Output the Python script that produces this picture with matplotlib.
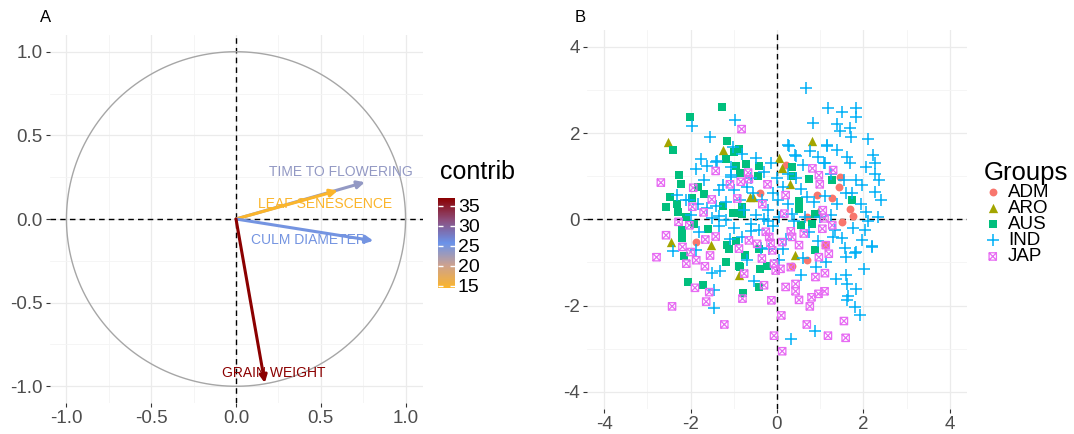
import matplotlib
matplotlib.use('Agg')
import matplotlib.pyplot as plt
import numpy as np
from matplotlib.path import Path
from matplotlib.colors import LinearSegmentedColormap, Normalize
from matplotlib.cm import ScalarMappable

plt.rcParams['font.family'] = ['Liberation Sans', 'DejaVu Sans']
plt.rcParams['axes.unicode_minus'] = False

# ---- panel A: variables ----
var_names = ['TIME TO FLOWERING', 'LEAF SENESCENCE', 'CULM DIAMETER', 'GRAIN WEIGHT']
var_dim1 = [0.76, 0.60, 0.81, 0.17]
var_dim2 = [0.22, 0.17, -0.13, -0.98]
var_contrib = [23.4, 14.5, 25.1, 36.9]
contrib_ticks = [15, 20, 25, 30, 35]

# label placement (layout only)
label_x = [0.62, 0.525, 0.425, 0.224]
label_y = [0.28, 0.09, -0.125, -0.92]

# ---- panel B: individuals ----
group_names = ['ADM', 'ARO', 'AUS', 'IND', 'JAP']

adm_x = [0.20, 1.47, 1.43, -0.39, 0.93, 1.28, 1.69, 0.70, 1.76, 1.50, -1.87, 1.11, 0.69, 0.35]
adm_y = [1.26, 0.98, 0.75, 0.61, 0.57, 0.50, 0.23, 0.05, 0.07, -0.06, -0.53, -0.59, -0.95, -1.09]

aro_x = [-2.52, -1.26, 0.82, 0.05, 0.11, 0.30, -0.63, -0.55, 0.95, -2.46, -1.54, 0.41, -0.89]
aro_y = [1.79, 1.60, 1.82, 1.41, 1.18, 0.81, 0.52, 0.52, 0.17, -0.53, -0.60, -0.84, -1.30]

aus_x = [-1.27, -2.01, -2.41, -1.16, -1.17, -2.27, -2.23, -1.83, -1.70, -2.48, -1.96, -2.56, -2.32,
         -1.25, -2.29, -2.11, -1.03, -1.92, -2.20, -2.15, -1.19, -2.07, -1.71, -0.89, -0.89, -0.71,
         -0.42, -0.95, -0.86, -0.43, 0.35, 0.38, 0.74, 1.28, 1.74, -0.80, 0.51, -0.99, 0.88, 0.52,
         0.55, -0.94, -0.42, -0.74, 0.88, -0.86, -0.40, -0.24, -0.42, -0.79, -0.99, -0.80, -2.21,
         -1.59, -1.15, -1.11, 0.80]
aus_y = [2.61, 2.36, 1.60, 1.81, 1.39, 1.02, 0.81, 0.75, 0.58, 0.52, 0.50, 0.28, 0.35,
         0.31, 0.16, 0.05, 0.15, -0.12, -0.43, -0.85, -0.99, -1.46, -1.53, -1.09, 1.62, 1.28,
         1.23, 1.23, 1.08, 1.00, 1.22, 1.00, 0.93, 0.92, 0.44, 0.29, 0.43, 0.15, 0.13, 0.23,
         -0.14, -0.51, -0.70, -0.84, -0.72, -1.11, -1.15, -1.09, -1.57, -1.70, 1.57, 0.13, -0.24,
         -0.23, -0.59, -0.69, -0.10]

ind_x = [-1.98, -0.97, -1.56, -1.03, -1.75, -1.87, -1.63, -1.38, -1.07, -2.31, -2.11, -1.84, -1.42,
         -1.61, -1.34, -1.50, -1.19, -2.42, -1.88, -1.51, -1.32, -1.46, -1.47, 0.66, 1.18, 1.51,
         1.84, 1.83, 1.39, 0.84, 1.46, 1.68, 1.72, 2.11, 0.28, 0.76, 1.16, 1.39, 1.61, 2.23, 0.43,
         1.09, 1.70, 2.07, 2.28, 1.97, 2.36, 1.59, -0.80, -0.48, -1.42, -1.07, -1.07, -0.69, -1.34,
         -0.99, -0.34, -1.19, -2.03, -0.76, -0.22, -0.49, 0.26, 1.15, 0.42, 1.11, 2.27, 1.82, 2.27,
         1.73, 0.69, 0.03, 0.34, 1.26, 2.07, -1.34, -0.61, -0.42, -0.38, -0.18, -0.53, 0.15, 2.19,
         1.96, 1.57, 1.80, 1.50, 1.34, 2.03, 1.65, 1.13, 1.59, 1.82, 2.20, 2.01, 1.36, 1.59, 1.63,
         1.82, 1.63, 1.80, 1.93, 0.88, 0.32,
         -0.60, -0.30, 0.00, 0.15, 0.45, 0.60, 0.95, 1.25, 0.55, 0.85, 1.10, 1.40, 1.55, 0.25,
         -0.10, -0.55, -0.85, -0.30, 0.05, 0.40, 0.75, 0.95, 0.20, -0.60, -1.00, -0.80, -0.10,
         0.60, 0.90, 1.30, 1.75, 2.35, 2.40, 1.95, 2.10, -1.70, -1.25, -2.00, -1.80, -1.10, -0.70,
         0.05, 0.55, 0.25, -0.15, 1.00, 0.65, -0.20]
ind_y = [2.17, 2.30, 1.90, 1.67, 1.40, 1.17, 1.23, 1.35, 1.02, 0.57, 0.44, 0.35, 0.31,
         0.25, 0.07, 0.02, -0.02, -0.74, -0.72, -1.25, -1.19, -1.64, -2.06, 3.04, 2.57, 2.48,
         2.59, 2.38, 2.22, 2.24, 2.05, 2.11, 1.91, 1.86, 1.70, 1.59, 1.71, 1.60, 1.45, 1.49, 1.47,
         1.30, 1.30, 1.22, 1.06, 0.79, 0.91, 0.60, 1.51, 1.43, 1.33, 1.22, 0.98, 0.75, 0.67,
         0.67, 0.44, 0.40, 0.44, 0.21, 0.21, 0.09, 1.72, 1.72, 1.49, 1.30, 1.30, 0.91, 0.64,
         0.60, 0.52, 0.44, 0.13, 0.09, 0.17, -0.16, -0.28, -0.24, -0.67, -0.70, -1.44, -0.70, -0.63,
         -0.47, -0.67, -0.78, -0.43, -0.24, -0.24, -1.79, -0.99, -0.88, -0.76, -0.64, -1.15, -1.38, -1.30, -1.50,
         -1.61, -1.88, -2.04, -2.23, -2.58, -2.77,
         0.95, 1.10, 0.95, 0.75, 0.95, 1.25, 1.45, 1.05, 0.70, 0.40, 0.55, 0.35, 0.90, 0.35,
         0.60, 0.60, 0.45, 0.00, 0.05, -0.05, -0.30, -0.50, -0.45, -0.10, -0.20, -0.40, -0.15,
         -0.90, -1.10, -0.40, -0.20, 0.05, 0.45, 0.35, -0.05, 0.90, 0.80, 0.10, -0.30, -0.45, -0.95,
         -0.95, -1.30, 1.05, 1.30, 0.05, 0.05, -0.05]

jap_x = [-1.42, -2.69, -1.94, -1.51, -1.96, -1.70, -2.28, -2.03, -2.57, -2.19, -2.00, -1.66, -1.42,
         -2.79, -1.87, -2.10, -1.55, -1.67, -1.90, -1.57, -2.43, -1.64, -1.22, -0.82, 0.82, 1.30,
         -0.67, -0.65, -0.22, 0.97, 0.99, 0.20, -0.34, 1.06, 1.10, 1.28, -0.26, -0.18, 0.32, 0.35,
         0.62, 1.05, 0.12, -0.15, -0.65, -0.46, -0.88, -0.35, -0.11, 0.51, 1.13, 0.97, 1.20, 0.32,
         -0.76, -0.03, 0.08, -0.07, 0.89, 1.11, -0.30, -0.80, 0.20, 0.43, 0.43, 0.51, -0.13, 0.80,
         0.96, 1.10, 0.76, 0.10, 1.55, 0.69, 1.18, 1.59, -0.07, 0.12, -1.09, -0.84, -0.92, 0.17]
jap_y = [1.12, 0.85, 0.73, 0.46, 0.29, 0.16, -0.06, -0.14, -0.37, -0.64, -0.76, -0.47, -0.40,
         -0.88, -0.95, -1.03, -0.84, -1.09, -1.59, -1.69, -2.02, -1.91, -2.44, 2.09, 1.18, 1.14,
         1.08, 0.93, 0.81, 1.02, 0.81, 0.56, 0.35, 0.21, 0.02, -0.14, -0.29, -0.41, -0.28, -0.41,
         -0.33, -0.22, -0.53, -0.55, -0.49, -0.57, -0.68, -0.91, -0.72, -0.60, -0.60, -0.88, -0.80, -1.11,
         -1.26, -1.19, -1.15, -1.03, -1.34, -1.25, -1.53, -1.84, -1.57, -1.50, -1.67, -1.87, -1.88, -1.81,
         -1.73, -1.67, -2.02, -2.23, -2.36, -2.44, -2.70, -2.75, -2.70, -3.06, 0.81, 0.87, 0.48, 0.13]

group_x = [adm_x, aro_x, aus_x, ind_x, jap_x]
group_y = [adm_y, aro_y, aus_y, ind_y, jap_y]
group_colors = ['#F8766D', '#A3A500', '#00BF7D', '#00B0F6', '#E76BF3']

# square with a cross inside (ggplot shape 7)
square_cross = Path(
    [(-1, -1), (1, -1), (1, 1), (-1, 1), (-1, -1), (-1, -1), (1, 1), (-1, 1), (1, -1)],
    [Path.MOVETO, Path.LINETO, Path.LINETO, Path.LINETO, Path.CLOSEPOLY,
     Path.MOVETO, Path.LINETO, Path.MOVETO, Path.LINETO])

W, H = 1074, 434
fig = plt.figure(figsize=(W / 100, H / 100), dpi=100)


def style_axes(ax, ticks, minor):
    for s in ax.spines.values():
        s.set_visible(False)
    ax.set_xticks(ticks)
    ax.set_yticks(ticks)
    ax.set_xticks(minor, minor=True)
    ax.set_yticks(minor, minor=True)
    ax.grid(True, which='major', color='#EBEBEB', lw=0.9, zorder=0)
    ax.grid(True, which='minor', color='#F4F4F4', lw=0.6, zorder=0)
    ax.tick_params(which='major', length=3, color='#333333', labelcolor='#4D4D4D',
                   labelsize=13.5, pad=2)
    ax.tick_params(which='minor', length=0)
    ax.set_axisbelow(True)
    ax.axhline(0, color='black', lw=1, ls=(0, (4, 3)), zorder=1)
    ax.axvline(0, color='black', lw=1, ls=(0, (4, 3)), zorder=1)


# ---------- panel A ----------
ax1 = fig.add_axes([49.5 / W, (H - 403) / H, 373 / W, 368 / H])
style_axes(ax1, [-1.0, -0.5, 0.0, 0.5, 1.0], [-0.75, -0.25, 0.25, 0.75])
ax1.set_xlim(-1.1, 1.1)
ax1.set_ylim(-1.1, 1.1)
ax1.set_xticklabels(['-1.0', '-0.5', '0.0', '0.5', '1.0'])
ax1.set_yticklabels(['-1.0', '-0.5', '0.0', '0.5', '1.0'])

theta = np.linspace(0, 2 * np.pi, 400)
ax1.plot(np.cos(theta), np.sin(theta), color='#A6A6A6', lw=1, zorder=2)

cmap = LinearSegmentedColormap.from_list(
    'contrib', [(0, '#FBB52B'), (0.25, '#CDA18E'), (0.5, '#6A93EA'), (0.75, '#8C4F7E'), (1, '#8B0000')])
norm = Normalize(vmin=min(var_contrib), vmax=max(var_contrib))

for i, name in enumerate(var_names):
    c = cmap(norm(var_contrib[i]))
    ax1.annotate('', xy=(var_dim1[i], var_dim2[i]), xytext=(0, 0),
                 arrowprops=dict(arrowstyle='-|>', color=c, lw=2.2, mutation_scale=11,
                                 shrinkA=0, shrinkB=0), zorder=3)
    ax1.text(label_x[i], label_y[i], name, color=c, fontsize=10, ha='center', va='center', zorder=4)

fig.text(40 / W, 1 - 18 / H, 'A', fontsize=12, ha='left', va='center')

# colorbar
cax = fig.add_axes([438 / W, (H - 288) / H, 17 / W, 90 / H])
cbar = fig.colorbar(ScalarMappable(norm=norm, cmap=cmap), cax=cax, ticks=contrib_ticks)
cbar.outline.set_visible(False)
cax.tick_params(axis='y', which='both', direction='in', color='white', length=3.5, width=1,
                left=True, right=True, labelleft=False, labelright=True, labelsize=14, pad=2)
fig.text(440 / W, 1 - 172 / H, 'contrib', fontsize=18, ha='left', va='center')

# ---------- panel B ----------
ax2 = fig.add_axes([587 / W, (H - 409) / H, 380 / W, 379.5 / H])
style_axes(ax2, [-4, -2, 0, 2, 4], [-3, -1, 1, 3])
ax2.set_xlim(-4.4, 4.4)
ax2.set_ylim(-4.4, 4.4)

handles = []
markers = ['o', '^', 's', '+', square_cross]
sizes = [32, 45, 32, 75, 28]
for name, gx, gy, col, mk, sz in zip(group_names, group_x, group_y, group_colors, markers, sizes):
    if mk == '+':
        h = ax2.scatter(gx, gy, marker=mk, s=sz, color=col, linewidths=1.1, zorder=3, label=name)
    elif mk is square_cross:
        h = ax2.scatter(gx, gy, marker=mk, s=sz, facecolors='none', edgecolors=col,
                        linewidths=0.9, zorder=3, label=name)
    else:
        h = ax2.scatter(gx, gy, marker=mk, s=sz, color=col, linewidths=0, zorder=3, label=name)
    handles.append(h)

fig.text(575 / W, 1 - 18 / H, 'B', fontsize=12, ha='left', va='center')

leg = fig.legend(handles=handles, labels=group_names, loc='upper left',
                 bbox_to_anchor=(974 / W, 1 - 152 / H), frameon=False, title='Groups',
                 title_fontsize=18.5, fontsize=13.5, handletextpad=0.3, handlelength=1.0,
                 labelspacing=-0.06, alignment='left', borderpad=0)

fig.savefig('out.png', dpi=100)
